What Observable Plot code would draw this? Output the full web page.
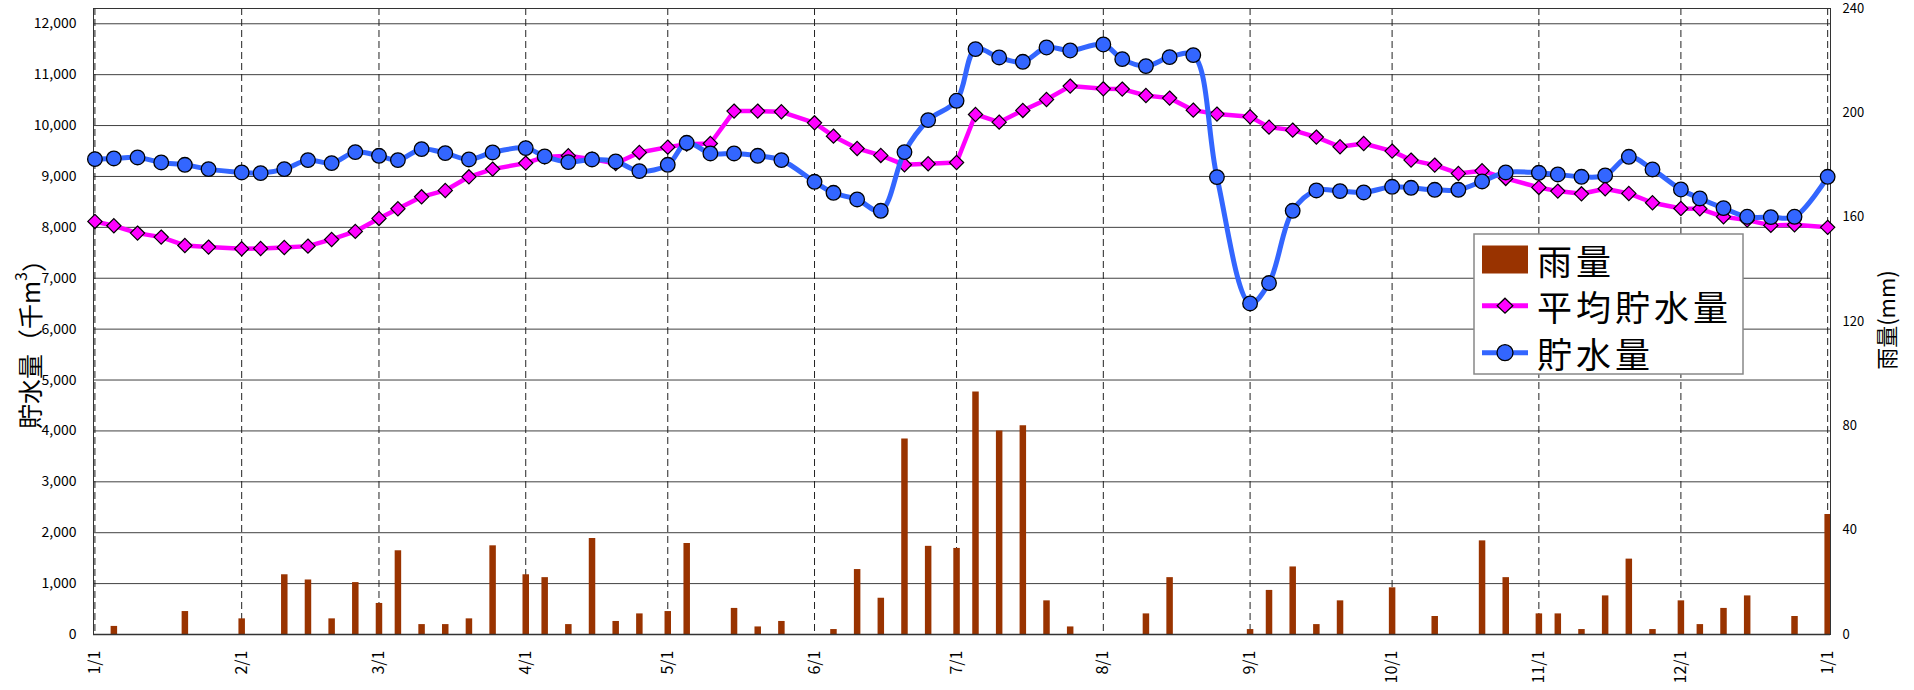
<!DOCTYPE html>
<html><head><meta charset="utf-8">
<script src="https://cdn.jsdelivr.net/npm/d3@7"></script>
<script src="https://cdn.jsdelivr.net/npm/@observablehq/plot@0.6"></script>
<style>html,body{margin:0;padding:0;background:#fff;} svg{display:block}</style>
</head><body><div id="chart"></div>
<script>
// ---- data ----
const dates = [
 "2024-01-01","2024-01-05","2024-01-10","2024-01-15","2024-01-20","2024-01-25",
 "2024-02-01","2024-02-05","2024-02-10","2024-02-15","2024-02-20","2024-02-25",
 "2024-03-01","2024-03-05","2024-03-10","2024-03-15","2024-03-20","2024-03-25",
 "2024-04-01","2024-04-05","2024-04-10","2024-04-15","2024-04-20","2024-04-25",
 "2024-05-01","2024-05-05","2024-05-10","2024-05-15","2024-05-20","2024-05-25",
 "2024-06-01","2024-06-05","2024-06-10","2024-06-15","2024-06-20","2024-06-25",
 "2024-07-01","2024-07-05","2024-07-10","2024-07-15","2024-07-20","2024-07-25",
 "2024-08-01","2024-08-05","2024-08-10","2024-08-15","2024-08-20","2024-08-25",
 "2024-09-01","2024-09-05","2024-09-10","2024-09-15","2024-09-20","2024-09-25",
 "2024-10-01","2024-10-05","2024-10-10","2024-10-15","2024-10-20","2024-10-25",
 "2024-11-01","2024-11-05","2024-11-10","2024-11-15","2024-11-20","2024-11-25",
 "2024-12-01","2024-12-05","2024-12-10","2024-12-15","2024-12-20","2024-12-25",
 "2025-01-01"
];
// 貯水量 (千m3)
const storage = [
 9340, 9354, 9373, 9275, 9229, 9144,
 9079, 9065, 9144, 9321, 9262, 9478,
 9406, 9321, 9537, 9458, 9334, 9472,
 9557, 9393, 9282, 9334, 9295, 9105,
 9229, 9661, 9452, 9452, 9406, 9321,
 8895, 8679, 8548, 8325, 9478, 10107,
 10487, 11502, 11338, 11253, 11534, 11475,
 11593, 11305, 11168, 11344, 11384, 8987,
 6505, 6905, 8325, 8725, 8712, 8686,
 8797, 8777, 8738, 8738, 8902, 9079,
 9072, 9039, 8993, 9020, 9386, 9138,
 8744, 8568, 8378, 8208, 8201, 8208,
 8993
];
// 平均貯水量 (千m3)
const average = [
 8116, 8031, 7887, 7808, 7644, 7612,
 7579, 7585, 7605, 7631, 7762, 7920,
 8175, 8365, 8600, 8725, 8993, 9144,
 9262, 9384, 9406, 9340, 9255, 9472,
 9576, 9635, 9648, 10284, 10284, 10271,
 10054, 9792, 9550, 9413, 9229, 9249,
 9275, 10218, 10067, 10297, 10513, 10775,
 10722, 10716, 10591, 10539, 10303, 10225,
 10172, 9969, 9910, 9773, 9583, 9648,
 9498, 9321, 9223, 9059, 9111, 8961,
 8784, 8712, 8659, 8758, 8666, 8483,
 8371, 8365, 8208, 8142, 8038, 8051,
 8000
];
// 雨量 (mm)
const rain = [
 0, 3.1, 0, 0, 8.8, 0,
 6.0, 0, 22.9, 20.9, 6.0, 19.9,
 11.9, 32.1, 3.8, 3.8, 6.0, 34.0,
 22.9, 21.8, 3.8, 36.8, 5.0, 7.9,
 8.8, 34.9, 0, 10.0, 2.9, 5.0,
 0, 1.9, 24.9, 13.9, 75.0, 33.8,
 33.0, 93.0, 78.0, 80.0, 12.9, 2.9,
 0, 0, 7.9, 21.8, 0, 0,
 1.9, 16.9, 25.9, 3.8, 12.9, 0,
 17.9, 0, 6.9, 0, 35.9, 21.8,
 7.9, 7.9, 1.9, 14.8, 28.9, 1.9,
 12.9, 3.8, 10.0, 14.8, 0, 6.9,
 46.0
];
const leftTicks = [0,1000,2000,3000,4000,5000,6000,7000,8000,9000,10000,11000,12000];
const rightTicks = [0,40,80,120,160,200,240];
const monthTicks = ["2024-01-01","2024-02-01","2024-03-01","2024-04-01","2024-05-01","2024-06-01",
 "2024-07-01","2024-08-01","2024-09-01","2024-10-01","2024-11-01","2024-12-01","2025-01-01"];
const seriesNames = ["雨量","平均貯水量","貯水量"];
const leftTitle = ["貯水量（千m", "3", "）"];
const rightTitle = "雨量(mm)";

// ---- build ----
const parse = s => new Date(s + "T00:00:00Z");
const DAY = 864e5;
const yMax = 12300, rainMax = 240, k = yMax / rainMax;
const rows = dates.map((d, i) => ({date: parse(d), storage: storage[i], average: average[i], rain: rain[i]}));
const months = monthTicks.map(parse);
const xDomain = [new Date(+months[0] - 0.3 * DAY), new Date(+months[months.length - 1] + 0.6 * DAY)];
const FONT = "'Noto Sans CJK JP', 'Noto Sans', sans-serif";
const colors = {rain: "#993300", average: "#ff00ff", storage: "#3366ff"};

const chart = Plot.plot({
  width: 1914, height: 690,
  marginLeft: 93, marginRight: 84, marginTop: 8, marginBottom: 56,
  style: {fontFamily: FONT, background: "#fff", color: "#000"},
  x: {type: "utc", domain: xDomain, label: null},
  y: {domain: [0, yMax], label: null},
  marks: [
    Plot.ruleY(leftTicks, {stroke: "#404040", strokeWidth: 1}),
    Plot.ruleX(months, {stroke: "#222", strokeWidth: 1, strokeDasharray: "7,4"}),
    Plot.ruleX(rows.filter(d => d.rain > 0), {x: "date", y1: 0, y2: d => d.rain * k, stroke: colors.rain, strokeWidth: 6.5}),
    Plot.frame({stroke: "#333"}),
    Plot.ruleY([0], {stroke: "#333", strokeWidth: 1.5}),
    Plot.line(rows, {x: "date", y: "average", stroke: colors.average, strokeWidth: 4.5}),
    Plot.dot(rows, {x: "date", y: "average", symbol: "diamond2", r: 6.4, fill: colors.average, stroke: "#000", strokeWidth: 1.2}),
    Plot.line(rows, {x: "date", y: "storage", stroke: colors.storage, strokeWidth: 5, curve: "catmull-rom"}),
    Plot.dot(rows, {x: "date", y: "storage", r: 7.3, fill: colors.storage, stroke: "#000", strokeWidth: 1.3}),
    Plot.axisY(leftTicks, {anchor: "left", tickSize: 0, tickPadding: 17, fontSize: 14, tickFormat: d3.format(","), label: null}),
    Plot.axisY(rightTicks.map(v => v * k), {anchor: "right", tickSize: 0, tickPadding: 12, fontSize: 13, tickFormat: d => String(Math.round(d / k)), label: null}),
    Plot.axisX(months, {anchor: "bottom", tickSize: 0, tickPadding: 16, tickRotate: -90, fontSize: 16,
      tickFormat: d => `${d.getUTCMonth() + 1}/${d.getUTCDate()}`, label: null})
  ]
});
document.getElementById("chart").appendChild(chart);

const svg = d3.select(chart);
// axis titles
const lt = svg.append("text")
  .attr("transform", "translate(28.5,338) rotate(-90)")
  .attr("text-anchor", "middle").attr("dominant-baseline", "central")
  .attr("font-family", FONT).attr("font-size", 25).attr("fill", "#000");
lt.append("tspan").text(leftTitle[0]);
lt.append("tspan").attr("dy", "-0.55em").attr("font-size", 16).text(leftTitle[1]);
lt.append("tspan").attr("dy", "0.55em").text(leftTitle[2]);

svg.append("text")
  .attr("transform", "translate(1885,320) rotate(-90)")
  .attr("text-anchor", "middle").attr("dominant-baseline", "central")
  .attr("font-family", FONT).attr("font-size", 22).attr("fill", "#000")
  .text(rightTitle);

// legend
const lg = svg.append("g").attr("text-anchor", "start");
lg.append("rect").attr("x", 1474).attr("y", 234).attr("width", 269).attr("height", 140)
  .attr("fill", "#fff").attr("stroke", "#888").attr("stroke-width", 1.5);
const rowsY = [259.5, 305.7, 352.7];
lg.append("rect").attr("x", 1482).attr("y", rowsY[0] - 14).attr("width", 46).attr("height", 28).attr("fill", colors.rain);
lg.append("line").attr("x1", 1482).attr("x2", 1528).attr("y1", rowsY[1]).attr("y2", rowsY[1])
  .attr("stroke", colors.average).attr("stroke-width", 5);
lg.append("path").attr("d", `M1505,${rowsY[1]-7.5}L1512.8,${rowsY[1]}L1505,${rowsY[1]+7.5}L1497.2,${rowsY[1]}Z`)
  .attr("fill", colors.average).attr("stroke", "#000").attr("stroke-width", 1.3);
lg.append("line").attr("x1", 1482).attr("x2", 1528).attr("y1", rowsY[2]).attr("y2", rowsY[2])
  .attr("stroke", colors.storage).attr("stroke-width", 5);
lg.append("circle").attr("cx", 1505).attr("cy", rowsY[2]).attr("r", 8)
  .attr("fill", colors.storage).attr("stroke", "#000").attr("stroke-width", 1.3);
seriesNames.forEach((name, i) => {
  lg.append("text").attr("x", 1537).attr("y", rowsY[i]).attr("dominant-baseline", "central")
    .attr("text-anchor", "start").attr("letter-spacing", 4)
    .attr("font-family", FONT).attr("font-size", 35).attr("fill", "#000").text(name);
});
</script>
</body></html>
